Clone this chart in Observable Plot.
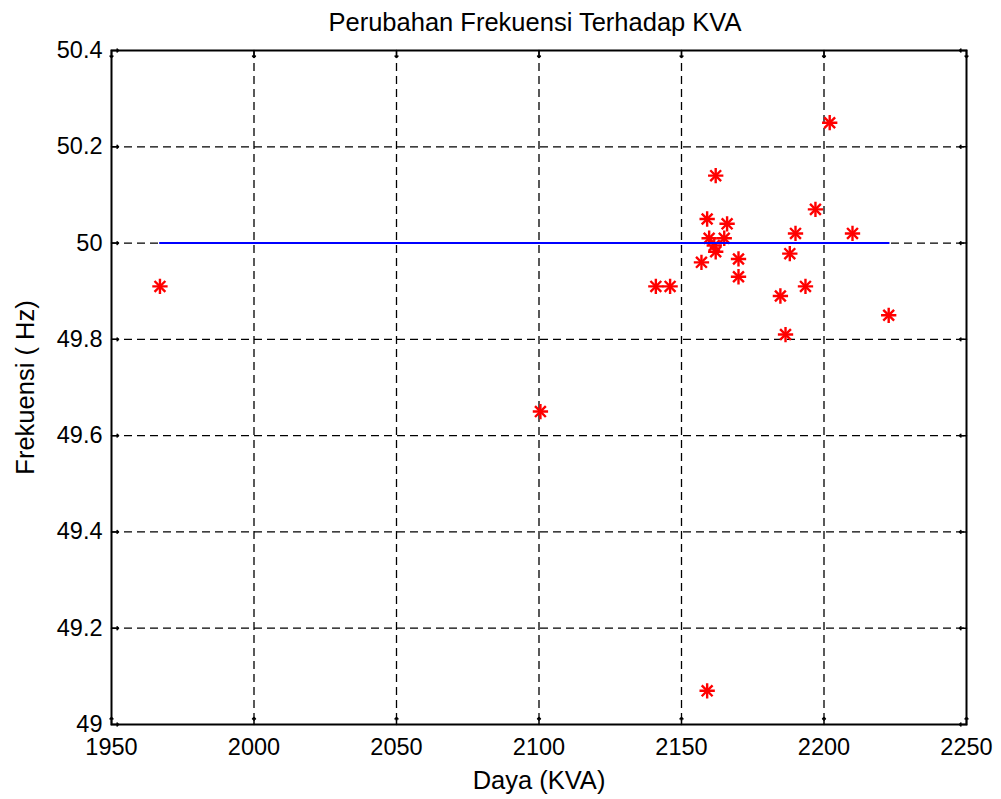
<!DOCTYPE html>
<html>
<head>
<meta charset="utf-8">
<script src="https://cdn.jsdelivr.net/npm/d3@7"></script>
<script src="https://cdn.jsdelivr.net/npm/@observablehq/plot@0.6"></script>
<style>
  html, body { margin: 0; padding: 0; background: white; }
</style>
</head>
<body>
<div id="chart"></div>
<script>
const titleText = "Perubahan Frekuensi Terhadap KVA";
const xLabel = "Daya (KVA)";
const yLabel = "Frekuensi ( Hz)";

const dayaKVA = [1967, 2100.5, 2141, 2146, 2157, 2159, 2159, 2159.7, 2161.5, 2162, 2162, 2165, 2166, 2170, 2170, 2184.7, 2186.5, 2188, 2190, 2193.5, 2197, 2202, 2210, 2222.7];
const frekuensi = [49.91, 49.65, 49.91, 49.91, 49.96, 50.05, 49.07, 50.01, 49.995, 49.982, 50.14, 50.01, 50.04, 49.967, 49.93, 49.89, 49.81, 49.978, 50.02, 49.91, 50.07, 50.25, 50.02, 49.85];
const nominal = 50;

const xTicks = [1950, 2000, 2050, 2100, 2150, 2200, 2250];
const yTicks = [49, 49.2, 49.4, 49.6, 49.8, 50, 50.2, 50.4];

const points = dayaKVA.map((x, i) => ({x, y: frekuensi[i]}));
const nominalLine = [d3.min(dayaKVA), d3.max(dayaKVA)].map(x => ({x, y: nominal}));

const xDom = [xTicks[0], xTicks[xTicks.length - 1]];
const yDom = [yTicks[0], yTicks[yTicks.length - 1]];
const fmtY = d => String(+d.toFixed(1));
const font = "Arial, 'Liberation Sans', Helvetica, sans-serif";

const tickStyle = {stroke: "black", strokeWidth: 1.5, length: 7, anchor: "start"};
const gridStyle = {stroke: "black", strokeOpacity: 1, strokeWidth: 1.3, strokeDasharray: "8,5"};

const chart = Plot.plot({
  width: 1001,
  height: 799,
  marginLeft: 111,
  marginRight: 35,
  marginTop: 50,
  marginBottom: 75,
  x: {domain: xDom, label: null},
  y: {domain: yDom, label: null},
  style: {fontFamily: font, fontSize: "22px", background: "white", color: "black"},
  marks: [
    Plot.gridX(xTicks.slice(1, -1), gridStyle),
    Plot.gridY(yTicks.slice(1, -1), gridStyle),
    Plot.axisX(xTicks, {tickSize: 0, tickPadding: 14, tickFormat: d => String(d), label: null, fontSize: 23.5}),
    Plot.axisY(yTicks, {tickSize: 0, tickPadding: 9, tickFormat: fmtY, label: null, fontSize: 23.5}),
    Plot.vector(xTicks, {x: d => d, y: yDom[0], rotate: 0, ...tickStyle}),
    Plot.vector(xTicks, {x: d => d, y: yDom[1], rotate: 180, ...tickStyle}),
    Plot.vector(yTicks, {y: d => d, x: xDom[0], rotate: 90, ...tickStyle}),
    Plot.vector(yTicks, {y: d => d, x: xDom[1], rotate: 270, ...tickStyle}),
    Plot.frame({stroke: "black", strokeWidth: 2}),
    Plot.dot(points, {x: "x", y: "y", symbol: "plus", r: 5, stroke: "red", strokeWidth: 2.4}),
    Plot.dot(points, {x: "x", y: "y", symbol: "times", r: 5, stroke: "red", strokeWidth: 2.4}),
    Plot.line(nominalLine, {x: "x", y: "y", stroke: "#0000ff", strokeWidth: 2}),
    Plot.text([titleText], {frameAnchor: "top", dx: -4, dy: -20, lineAnchor: "bottom", textAnchor: "middle", fontSize: 25.5, fill: "black"}),
    Plot.text([xLabel], {frameAnchor: "bottom", dy: 64, lineAnchor: "bottom", textAnchor: "middle", fontSize: 25.5, fill: "black"}),
    Plot.text([yLabel], {frameAnchor: "left", dx: -78, rotate: -90, lineAnchor: "bottom", textAnchor: "middle", fontSize: 25.5, fill: "black"})
  ]
});
document.getElementById("chart").appendChild(chart);
</script>
</body>
</html>
